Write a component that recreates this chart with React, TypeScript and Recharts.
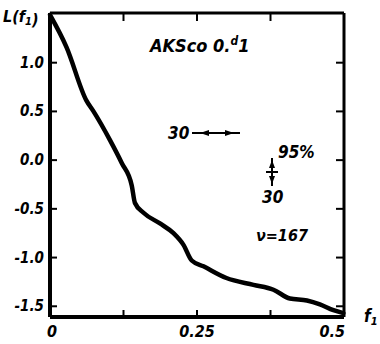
import React from 'react'
import { LineChart, Line, XAxis, YAxis } from 'recharts'

// curve: f1 → L(f1)
const freq = [0, 0.028, 0.062, 0.074, 0.102, 0.122, 0.139, 0.1445, 0.159, 0.187, 0.21, 0.227, 0.241, 0.261, 0.3, 0.346, 0.38, 0.408, 0.437, 0.459, 0.482, 0.499]
const level = [1.49, 1.16, 0.61, 0.5, 0.205, -0.03, -0.26, -0.44, -0.54, -0.65, -0.75, -0.87, -1.03, -1.09, -1.21, -1.28, -1.33, -1.42, -1.44, -1.48, -1.54, -1.57]

const xTicks = [0, 0.125, 0.25, 0.375, 0.5]
const xLabels = ['0', '', '0.25', '', '0.5']
const yTicks = [-1.5, -1.0, -0.5, 0.0, 0.5, 1.0]
const yLabels = ['-1.5', '-1.0', '-0.5', '0.0', '0.5', '1.0']

const data = freq.map((f, i) => ({ f, L: level[i] }))

const hand = '"Liberation Sans Narrow", "DejaVu Sans Condensed", "DejaVu Sans", sans-serif'
const txt = { fontFamily: hand, fontStyle: 'italic' as const, fontWeight: 'bold' as const, fill: '#000' }

// left axis: label outside, short tick pointing into the box
const leftTick = (props: any) => {
  const { x, y, payload } = props
  const i = yTicks.indexOf(payload.value)
  return (
    <g key={`l${i}`}>
      <line x1={x + 5} x2={x + 12} y1={y} y2={y} stroke="#000" strokeWidth={2} />
      <text x={x - 1} y={y + 5} textAnchor="end" fontSize={15} style={txt}>
        {yLabels[i]}
      </text>
    </g>
  )
}

const bottomTick = (props: any) => {
  const { x, y, payload } = props
  const i = xTicks.indexOf(payload.value)
  const inner = i > 0 && i < xTicks.length - 1
  const last = i === xTicks.length - 1
  return (
    <g key={`b${i}`}>
      {inner && <line x1={x} x2={x} y1={y - 5} y2={y - 12} stroke="#000" strokeWidth={2} />}
      <text x={last ? x + 1 : x + (i === 0 ? 2 : 0)} y={y + 15} textAnchor={last ? 'end' : 'middle'} fontSize={16} style={txt}>
        {xLabels[i]}
      </text>
    </g>
  )
}

const topTick = (props: any) => {
  const { x, y, payload } = props
  if (payload.value === 0 || payload.value === 0.5) return <g key={`t${payload.value}`} />
  return <line key={`t${payload.value}`} x1={x} x2={x} y1={y + 1} y2={y + 8} stroke="#000" strokeWidth={2} />
}

const rightTick = (props: any) => {
  const { x, y, payload } = props
  return <line key={`r${payload.value}`} x1={x - 1} x2={x - 8} y1={y} y2={y} stroke="#000" strokeWidth={2} />
}

export default function App() {
  return (
    <div style={{ position: 'absolute', left: 0, top: 0, width: 380, height: 344, background: '#fff' }}>
      <LineChart width={380} height={344} data={data} margin={{ top: 12, right: 35, left: 0, bottom: 0 }}>
        <XAxis xAxisId="b" dataKey="f" type="number" domain={[0, 0.5]} ticks={xTicks} height={27}
          axisLine={{ stroke: '#000', strokeWidth: 4 }} tickLine={false} tickSize={0} tickMargin={5}
          tick={bottomTick} interval={0} />
        <XAxis xAxisId="t" orientation="top" dataKey="f" type="number" domain={[0, 0.5]} ticks={xTicks} height={1}
          axisLine={{ stroke: '#000', strokeWidth: 3 }} tickLine={false} tickSize={0} tickMargin={0}
          tick={topTick} interval={0} />
        <YAxis yAxisId="l" type="number" domain={[-1.61, 1.51]} ticks={yTicks} width={50}
          axisLine={{ stroke: '#000', strokeWidth: 4 }} tickLine={false} tickSize={0} tickMargin={5}
          tick={leftTick} interval={0} />
        <YAxis yAxisId="r" orientation="right" type="number" domain={[-1.61, 1.51]} ticks={yTicks} width={1}
          axisLine={{ stroke: '#000', strokeWidth: 3 }} tickLine={false} tickSize={0} tickMargin={0}
          tick={rightTick} interval={0} />
        <Line xAxisId="t" yAxisId="r" dataKey="L" type="monotone" stroke="none" dot={false} isAnimationActive={false} />
        <Line xAxisId="b" yAxisId="l" dataKey="L" type="monotone" stroke="#000" strokeWidth={4.5} dot={false} isAnimationActive={false} strokeLinecap="round" />
      </LineChart>
      <svg width={380} height={344} style={{ position: 'absolute', left: 0, top: 0, pointerEvents: 'none' }}>
        <text x={3} y={22} fontSize={16} style={txt}>L(f<tspan fontSize={11} dy={3}>1</tspan>)</text>
        <text x={364} y={322} fontSize={17} style={txt}>f<tspan fontSize={11} dy={3}>1</tspan></text>
        <text x={150} y={52} fontSize={18} style={txt}>AKSco 0.<tspan fontSize={12} dy={-7}>d</tspan><tspan dy={7}>1</tspan></text>
        <text x={168} y={139} fontSize={17} style={txt}>30</text>
        <line x1={192} x2={240} y1={133} y2={133} stroke="#000" strokeWidth={2} />
        <polygon points="200,133 209,130 209,136" fill="#000" />
        <polygon points="234,133 225,130 225,136" fill="#000" />
        <text x={278} y={158} fontSize={17} style={txt}>95%</text>
        <line x1={272} x2={272} y1={158} y2={186} stroke="#000" strokeWidth={2} />
        <polygon points="272,160 269,168 275,168" fill="#000" />
        <polygon points="272,184 269,176 275,176" fill="#000" />
        <line x1={266} x2={278} y1={172} y2={172} stroke="#000" strokeWidth={2} />
        <text x={262} y={203} fontSize={17} style={txt}>30</text>
        <text x={256} y={241} fontSize={16} style={txt}>ν=167</text>
      </svg>
    </div>
  )
}
